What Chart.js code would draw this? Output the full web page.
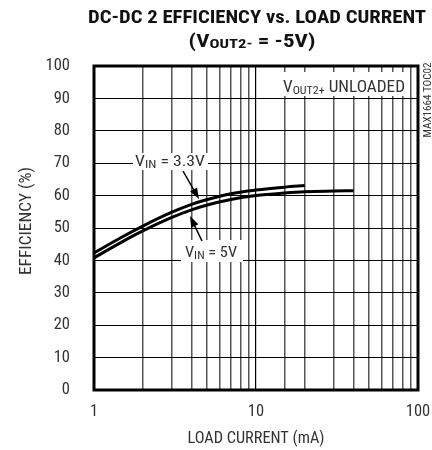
<!DOCTYPE html>
<html lang="en">
<head>
  <meta charset="UTF-8">
  <title>DC-DC 2 Efficiency vs. Load Current</title>
  <script src="https://cdn.jsdelivr.net/npm/chart.js"></script>
  <style>
    body { margin: 0; background: #fff; }
    #chart { display: block; }
  </style>
</head>
<body>
  <canvas id="chart" width="432" height="450"></canvas>
  <script>
    // Data (load current in mA, efficiency in %)
    const load33 = [1, 1.5, 2, 3, 4, 5, 7, 10, 15, 20];
    const eff33 = [42.3, 47.3, 50.6, 54.8, 57.3, 58.8, 60.6, 61.7, 62.6, 63.1];
    const load5 = [1, 1.5, 2, 3, 4, 5, 7, 10, 15, 20, 30, 40];
    const eff5 = [40.8, 45.8, 49.1, 53.2, 55.6, 57.1, 58.8, 60.0, 60.8, 61.2, 61.4, 61.5];
    const xTickLabels = [1, 10, 100];

    const FONT = "'Roboto Condensed', 'Liberation Sans Narrow', sans-serif";

    // draws text made of parts with their own size / vertical offset (for subscripts),
    // optionally stretched horizontally to a given width
    function drawParts(ctx, parts, x, y, align, bold, width) {
      const w = bold ? 'bold ' : '';
      let total = 0;
      parts.forEach(p => {
        ctx.font = w + p.size + 'px ' + FONT;
        p.w = ctx.measureText(p.t).width;
        total += p.w;
      });
      const sx = width ? width / total : 1;
      const start = align === 'center' ? x - total * sx / 2 : x;
      ctx.save();
      ctx.translate(start, y);
      ctx.scale(sx, 1);
      ctx.textAlign = 'left';
      ctx.textBaseline = 'alphabetic';
      let cx = 0;
      parts.forEach(p => {
        ctx.font = w + p.size + 'px ' + FONT;
        ctx.fillText(p.t, cx, p.dy || 0);
        cx += p.w;
      });
      ctx.restore();
    }

    function arrow(ctx, x1, y1, x2, y2) {
      const a = Math.atan2(y2 - y1, x2 - x1);
      ctx.beginPath();
      ctx.moveTo(x1, y1);
      ctx.lineTo(x2 - 6 * Math.cos(a), y2 - 6 * Math.sin(a));
      ctx.lineWidth = 1.5;
      ctx.stroke();
      ctx.beginPath();
      ctx.moveTo(x2, y2);
      ctx.lineTo(x2 - 11 * Math.cos(a) + 4 * Math.sin(a), y2 - 11 * Math.sin(a) - 4 * Math.cos(a));
      ctx.lineTo(x2 - 11 * Math.cos(a) - 4 * Math.sin(a), y2 - 11 * Math.sin(a) + 4 * Math.cos(a));
      ctx.closePath();
      ctx.fill();
    }

    const decorations = {
      id: 'decorations',
      afterDraw(chart) {
        const ctx = chart.ctx;
        const a = chart.chartArea;
        ctx.save();
        ctx.fillStyle = '#000';
        ctx.strokeStyle = '#000';

        // frame
        ctx.lineWidth = 3;
        ctx.strokeRect(a.left, a.top, a.right - a.left, a.bottom - a.top);

        // title
        ctx.fillStyle = '#111';
        drawParts(ctx, [{ t: 'DC-DC 2 EFFICIENCY vs. LOAD CURRENT', size: 18 }], 257, 23, 'center', true, 338);
        drawParts(ctx, [
          { t: '(V', size: 18 },
          { t: 'OUT2-', size: 13, dy: 1 },
          { t: ' = -5V)', size: 18 }
        ], 252, 47, 'center', true, 127);

        // axis titles
        ctx.fillStyle = '#333';
        drawParts(ctx, [{ t: 'LOAD CURRENT (mA)', size: 17 }], 256, 443, 'center', false, 137);
        ctx.save();
        ctx.translate(31, 221);
        ctx.rotate(-Math.PI / 2);
        drawParts(ctx, [{ t: 'EFFICIENCY (%)', size: 17 }], 0, 0, 'center', false, 108);
        ctx.restore();

        // part number, rotated
        ctx.save();
        ctx.translate(431, 100);
        ctx.rotate(-Math.PI / 2);
        drawParts(ctx, [{ t: 'MAX1664 TOC02', size: 11 }], 0, 0, 'center', false, 75);
        ctx.restore();

        // labels with white boxes
        ctx.fillStyle = '#fff';
        ctx.fillRect(278, 72, 132, 24);
        ctx.fillRect(133, 153, 75, 17);
        ctx.fillRect(181, 240, 62, 22);

        ctx.fillStyle = '#333';
        drawParts(ctx, [
          { t: 'V', size: 16.5 },
          { t: 'OUT2+', size: 11.5, dy: 2 },
          { t: ' UNLOADED', size: 16.5 }
        ], 283, 92, 'left', false, 122);
        drawParts(ctx, [
          { t: 'V', size: 15.5 },
          { t: 'IN', size: 11.5, dy: 2 },
          { t: ' = 3.3V', size: 15.5 }
        ], 135, 166, 'left', false, 70);
        drawParts(ctx, [
          { t: 'V', size: 15.5 },
          { t: 'IN', size: 11.5, dy: 2 },
          { t: ' = 5V', size: 15.5 }
        ], 185, 257, 'left', false, 52);

        ctx.fillStyle = '#000';
        arrow(ctx, 183, 171, 199, 199);
        arrow(ctx, 202, 241, 190, 216);
        ctx.restore();
      }
    };

    new Chart(document.getElementById('chart'), {
      type: 'line',
      data: {
        datasets: [
          {
            label: 'VIN = 3.3V',
            data: load33.map((x, i) => ({ x: x, y: eff33[i] })),
            borderColor: '#000',
            borderWidth: 3,
            pointRadius: 0,
            cubicInterpolationMode: 'monotone',
            fill: false
          },
          {
            label: 'VIN = 5V',
            data: load5.map((x, i) => ({ x: x, y: eff5[i] })),
            borderColor: '#000',
            borderWidth: 3,
            pointRadius: 0,
            cubicInterpolationMode: 'monotone',
            fill: false
          }
        ]
      },
      options: {
        responsive: false,
        animation: false,
        layout: { padding: { top: 66, right: 14, left: 0, bottom: 0 } },
        plugins: {
          legend: { display: false },
          tooltip: { enabled: false }
        },
        scales: {
          x: {
            type: 'logarithmic',
            min: 1,
            max: 100,
            afterFit: (scale) => {
              scale.height = 60;
              scale.paddingLeft = 0;
              scale.paddingRight = 0;
            },
            border: { display: false },
            grid: {
              drawTicks: false,
              color: (c) => xTickLabels.includes(c.tick && c.tick.value) ? '#000' : '#555',
              lineWidth: (c) => xTickLabels.includes(c.tick && c.tick.value) ? 1.2 : 1.5
            },
            ticks: {
              autoSkip: false,
              maxRotation: 0,
              padding: 12,
              color: '#333',
              font: { family: FONT, size: 16.5 },
              callback: (v) => xTickLabels.includes(v) ? String(v) : ''
            }
          },
          y: {
            min: 0,
            max: 100,
            afterFit: (scale) => { scale.width = 94; },
            border: { display: false },
            grid: { drawTicks: false, color: '#000', lineWidth: 1 },
            ticks: {
              stepSize: 10,
              padding: 24,
              color: '#333',
              font: { family: FONT, size: 16.5 }
            }
          }
        }
      },
      plugins: [decorations]
    });
  </script>
</body>
</html>
